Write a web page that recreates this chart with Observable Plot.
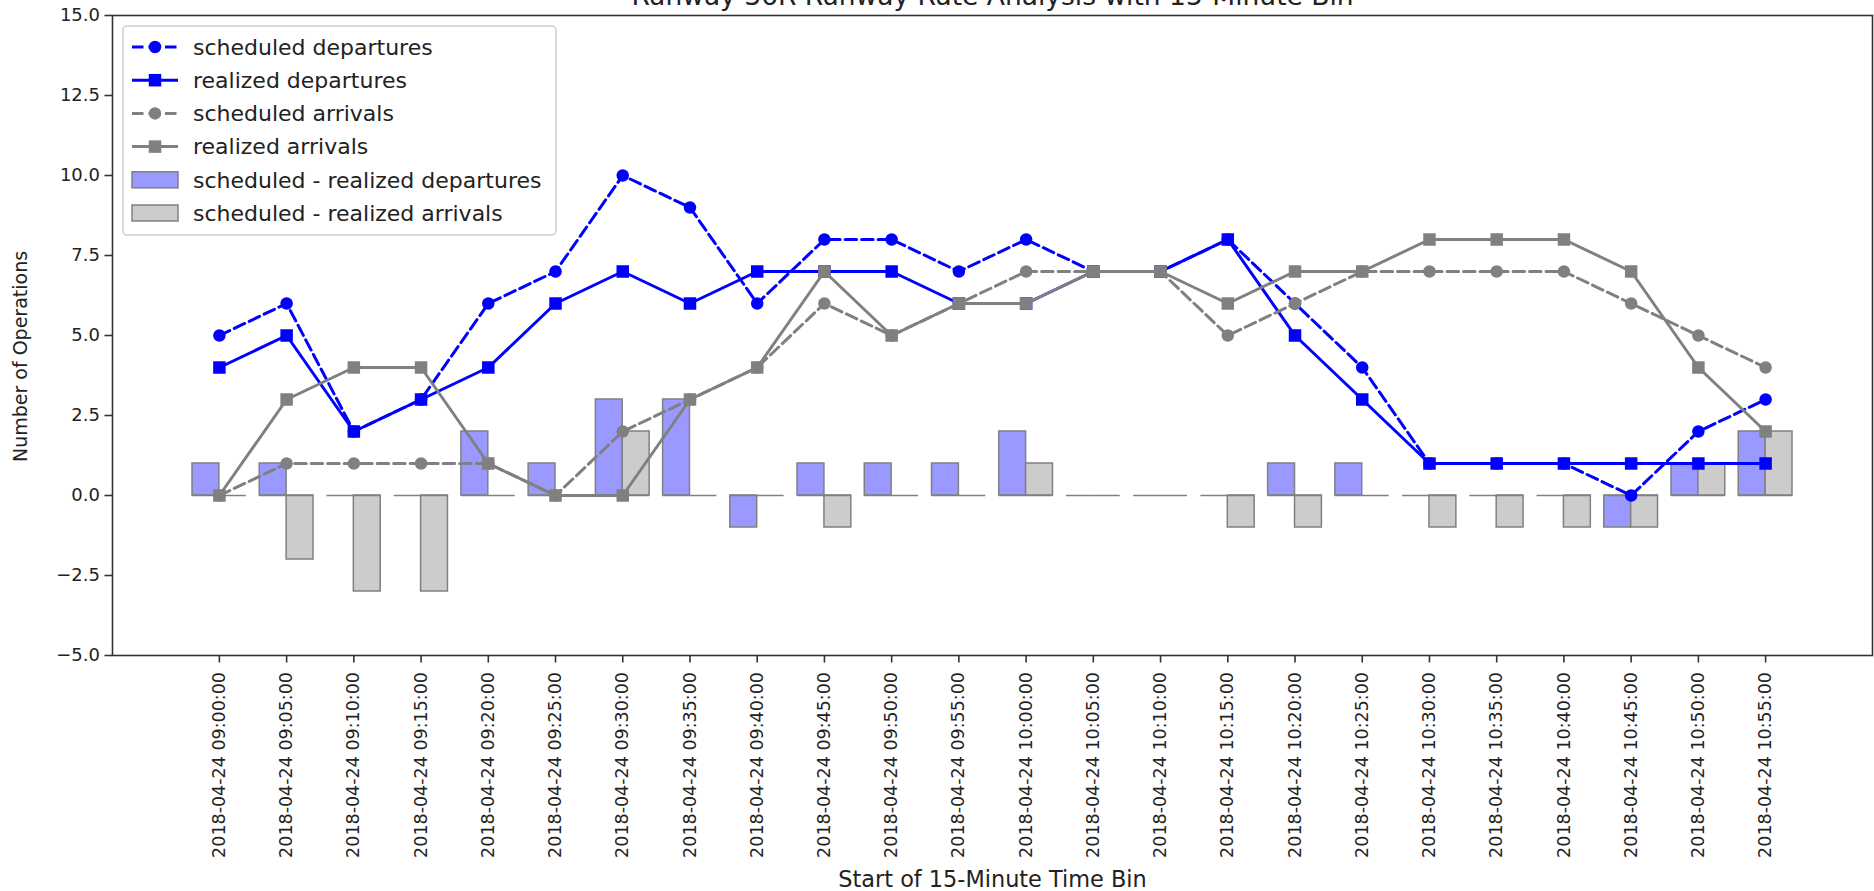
<!DOCTYPE html>
<html>
<head>
<meta charset="utf-8">
<script src="https://cdn.jsdelivr.net/npm/d3@7"></script>
<script src="https://cdn.jsdelivr.net/npm/@observablehq/plot@0.6"></script>
<style>
  html, body { margin: 0; padding: 0; background: #fff; }
  #chart svg { display: block; }
</style>
</head>
<body>
<div id="chart"></div>
<script>
// Bin start times (x axis categories)
const binStarts = [
  "2018-04-24 09:00:00", "2018-04-24 09:05:00", "2018-04-24 09:10:00", "2018-04-24 09:15:00",
  "2018-04-24 09:20:00", "2018-04-24 09:25:00", "2018-04-24 09:30:00", "2018-04-24 09:35:00",
  "2018-04-24 09:40:00", "2018-04-24 09:45:00", "2018-04-24 09:50:00", "2018-04-24 09:55:00",
  "2018-04-24 10:00:00", "2018-04-24 10:05:00", "2018-04-24 10:10:00", "2018-04-24 10:15:00",
  "2018-04-24 10:20:00", "2018-04-24 10:25:00", "2018-04-24 10:30:00", "2018-04-24 10:35:00",
  "2018-04-24 10:40:00", "2018-04-24 10:45:00", "2018-04-24 10:50:00", "2018-04-24 10:55:00"
];

// Operation counts per bin
const scheduledDepartures = [5, 6, 2, 3, 6, 7, 10, 9, 6, 8, 8, 7, 8, 7, 7, 8, 6, 4, 1, 1, 1, 0, 2, 3];
const realizedDepartures  = [4, 5, 2, 3, 4, 6, 7, 6, 7, 7, 7, 6, 6, 7, 7, 8, 5, 3, 1, 1, 1, 1, 1, 1];
const scheduledArrivals   = [0, 1, 1, 1, 1, 0, 2, 3, 4, 6, 5, 6, 7, 7, 7, 5, 6, 7, 7, 7, 7, 6, 5, 4];
const realizedArrivals    = [0, 3, 4, 4, 1, 0, 0, 3, 4, 7, 5, 6, 6, 7, 7, 6, 7, 7, 8, 8, 8, 7, 4, 2];

// Scheduled minus realized, per bin
const departureGap = [1, 1, 0, 0, 2, 1, 3, 3, -1, 1, 1, 1, 2, 0, 0, 0, 1, 1, 0, 0, 0, -1, 1, 2];
const arrivalGap   = [0, -2, -3, -3, 0, 0, 2, 0, 0, -1, 0, 0, 1, 0, 0, -1, -1, 0, -1, -1, -1, -1, 1, 2];

const seriesNames = [
  "scheduled departures", "realized departures", "scheduled arrivals",
  "realized arrivals", "scheduled - realized departures", "scheduled - realized arrivals"
];
const yTicks = [-5, -2.5, 0, 2.5, 5, 7.5, 10, 12.5, 15];
const titleText = "Runway 36R Runway Rate Analysis with 15-Minute Bin";
const xLabel = "Start of 15-Minute Time Bin";
const yLabel = "Number of Operations";

const parseTime = d3.utcParse("%Y-%m-%d %H:%M:%S");
const formatTime = d3.utcFormat("%Y-%m-%d %H:%M:%S");
const times = binStarts.map(parseTime);

const MINUTE = 60000;
const BAR_WIDTH = 2 * MINUTE;
const shift = (t, ms) => new Date(+t + ms);

const rows = times.map((t, i) => ({
  t,
  sd: scheduledDepartures[i],
  rd: realizedDepartures[i],
  sa: scheduledArrivals[i],
  ra: realizedArrivals[i],
  dg: departureGap[i],
  ag: arrivalGap[i]
}));

const BLUE = "#0000ff";
const GRAY = "#808080";
const BLUE_FILL = "#9999ff";
const GRAY_FILL = "#cccccc";
const DASH = "11.5,5";
const LW = 3;
const DOT_R = 6.25;
const SQUARE_R = 7.05;
const FONT = "DejaVu Sans, Verdana, sans-serif";

const xDomain = [shift(times[0], -7.95 * MINUTE), shift(times[times.length - 1], 7.95 * MINUTE)];

const chart = Plot.plot({
  width: 1874,
  height: 891,
  marginTop: 15,
  marginBottom: 236,
  marginLeft: 112,
  marginRight: 2,
  style: { fontFamily: FONT, background: "white", color: "#222" },
  x: { type: "utc", domain: xDomain },
  y: { domain: [-5, 15] },
  marks: [
    // difference bars
    Plot.rect(rows, {
      x1: d => shift(d.t, -BAR_WIDTH), x2: "t", y1: () => 0, y2: "dg",
      fill: BLUE_FILL, stroke: GRAY, strokeWidth: 1.5
    }),
    Plot.rect(rows, {
      x1: "t", x2: d => shift(d.t, BAR_WIDTH), y1: () => 0, y2: "ag",
      fill: GRAY_FILL, stroke: GRAY, strokeWidth: 1.5
    }),
    // bar bottom edges (visible for zero-height bars)
    Plot.ruleY(rows, { y: () => 0, x1: d => shift(d.t, -BAR_WIDTH), x2: "t", stroke: GRAY, strokeWidth: 1.5 }),
    Plot.ruleY(rows, { y: () => 0, x1: "t", x2: d => shift(d.t, BAR_WIDTH), stroke: GRAY, strokeWidth: 1.5 }),

    // scheduled departures
    Plot.line(rows, { x: "t", y: "sd", stroke: BLUE, strokeWidth: LW, strokeDasharray: DASH }),
    Plot.dot(rows, { x: "t", y: "sd", r: DOT_R, fill: BLUE }),
    // realized departures
    Plot.line(rows, { x: "t", y: "rd", stroke: BLUE, strokeWidth: LW }),
    Plot.dot(rows, { x: "t", y: "rd", r: SQUARE_R, symbol: "square", fill: BLUE }),
    // scheduled arrivals
    Plot.line(rows, { x: "t", y: "sa", stroke: GRAY, strokeWidth: LW, strokeDasharray: DASH }),
    Plot.dot(rows, { x: "t", y: "sa", r: DOT_R, fill: GRAY }),
    // realized arrivals
    Plot.line(rows, { x: "t", y: "ra", stroke: GRAY, strokeWidth: LW }),
    Plot.dot(rows, { x: "t", y: "ra", r: SQUARE_R, symbol: "square", fill: GRAY }),

    Plot.frame({ stroke: "#333", strokeWidth: 1.6 }),
    Plot.axisY({
      ticks: yTicks, tickFormat: d3.format(".1f"), tickSize: 7.5, tickPadding: 5,
      fontSize: 18, label: null, stroke: "#333", strokeWidth: 1.6
    }),
    Plot.axisX({
      ticks: times, tickFormat: formatTime, tickRotate: -90, tickSize: 7.5, tickPadding: 9,
      fontSize: 17.5, label: null, stroke: "#333", strokeWidth: 1.6
    }),

    // title and axis labels
    Plot.text([titleText], {
      text: d => d, frameAnchor: "top", textAnchor: "middle", dy: -11, lineAnchor: "bottom", fontSize: 26.5
    }),
    Plot.text([xLabel], {
      text: d => d, frameAnchor: "bottom", textAnchor: "middle", dy: 231, lineAnchor: "bottom", fontSize: 22.4
    }),
    Plot.text([yLabel], {
      text: d => d, frameAnchor: "left", textAnchor: "middle", dx: -92, dy: 21, rotate: -90, fontSize: 19
    })
  ]
});

document.getElementById("chart").appendChild(chart);

// Legend in the upper-left corner of the plot area
const legendItems = [
  { name: seriesNames[0], kind: "line", color: BLUE, dash: DASH, symbol: "circle" },
  { name: seriesNames[1], kind: "line", color: BLUE, dash: null, symbol: "square" },
  { name: seriesNames[2], kind: "line", color: GRAY, dash: DASH, symbol: "circle" },
  { name: seriesNames[3], kind: "line", color: GRAY, dash: null, symbol: "square" },
  { name: seriesNames[4], kind: "bar", fill: BLUE_FILL },
  { name: seriesNames[5], kind: "bar", fill: GRAY_FILL }
];

const svg = d3.select(chart);
const legend = svg.append("g")
  .attr("font-family", FONT)
  .attr("font-size", 22)
  .attr("text-anchor", "start")
  .attr("fill", "#222");

legend.append("rect")
  .attr("x", 123).attr("y", 26).attr("width", 433).attr("height", 209)
  .attr("rx", 4)
  .attr("fill", "white").attr("fill-opacity", 0.8)
  .attr("stroke", "#cccccc").attr("stroke-width", 1.5);

legendItems.forEach((item, i) => {
  const cy = 47 + i * 33.2;
  const g = legend.append("g");
  if (item.kind === "line") {
    g.append("line")
      .attr("x1", 132).attr("x2", 178).attr("y1", cy).attr("y2", cy)
      .attr("stroke", item.color).attr("stroke-width", LW)
      .attr("stroke-dasharray", item.dash);
    if (item.symbol === "circle") {
      g.append("circle").attr("cx", 155).attr("cy", cy).attr("r", DOT_R).attr("fill", item.color);
    } else {
      g.append("rect").attr("x", 155 - 6.25).attr("y", cy - 6.25)
        .attr("width", 12.5).attr("height", 12.5).attr("fill", item.color);
    }
  } else {
    g.append("rect")
      .attr("x", 132).attr("y", cy - 8).attr("width", 46).attr("height", 16)
      .attr("fill", item.fill).attr("stroke", GRAY).attr("stroke-width", 1.5);
  }
  g.append("text")
    .attr("x", 193).attr("y", cy).attr("dy", "0.35em")
    .text(item.name);
});
</script>
</body>
</html>
